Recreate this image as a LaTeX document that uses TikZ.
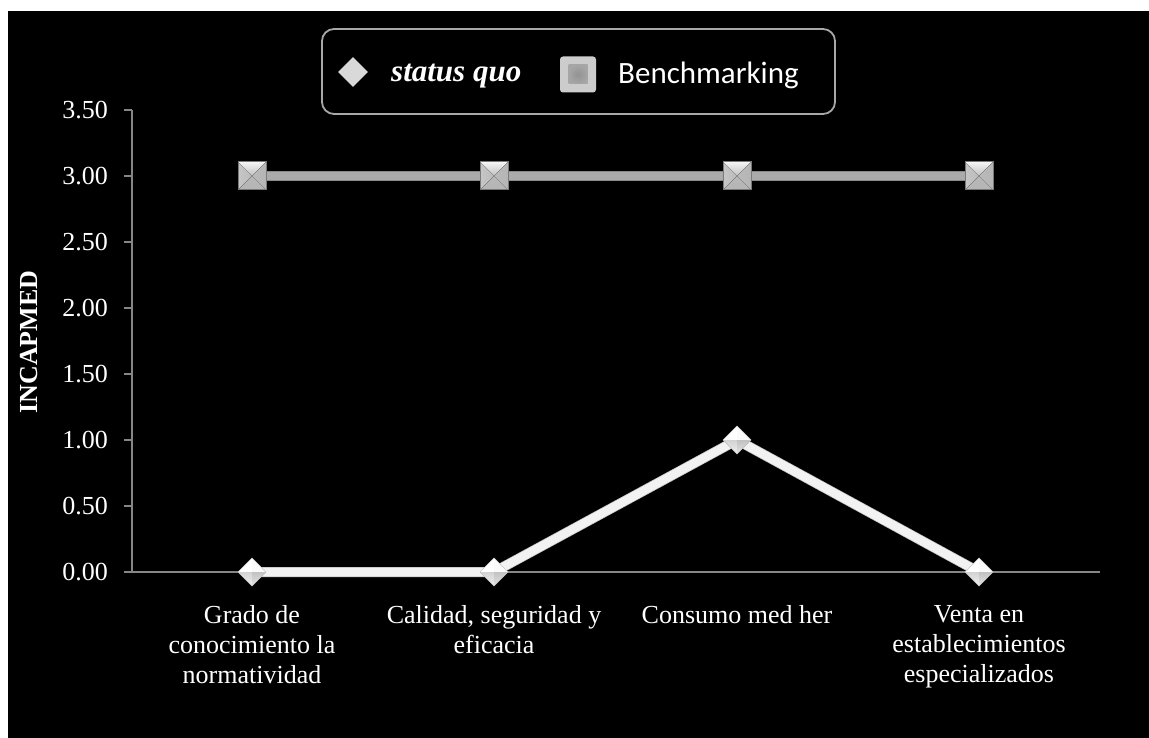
\documentclass[tikz,border=0pt]{standalone}
\usepackage{fontspec}
\setmainfont{Liberation Serif}
\newfontfamily\legendsans{Carlito}
\usetikzlibrary{shapes.geometric}

\definecolor{axisgray}{HTML}{868686}
\definecolor{benchline}{HTML}{ABABAB}
\definecolor{benchedge}{HTML}{8A8A8A}
\definecolor{sqline}{HTML}{F2F2F2}
\definecolor{sqedge}{HTML}{C8C8C8}
\definecolor{legendedge}{HTML}{A8A8A8}

\tikzset{
  axisline/.style={draw=axisgray, line width=1.6pt},
  ticklabel/.style={anchor=east, inner sep=0pt, text=white, font=\fontsize{26}{30}\selectfont},
  catlabel/.style={anchor=north, inner sep=0pt, align=center, text=white, font=\fontsize{26}{30}\selectfont},
  titlelabel/.style={inner sep=0pt, text=white, rotate=90, font=\fontsize{26}{30}\selectfont\bfseries},
  benchedgeline/.style={draw=benchedge, line width=10pt},
  benchcore/.style={draw=benchline, line width=8pt},
  sqedgeline/.style={draw=sqedge, line width=10pt},
  sqcore/.style={draw=sqline, line width=8.5pt},
  legendbox/.style={draw=legendedge, line width=1.8pt, rounded corners=12pt, minimum width=513pt, minimum height=85pt, inner sep=0pt},
  % square pyramid marker of the Benchmarking series
  sqmark/.pic={
    \fill[gray!52!white] (-14,-14) rectangle (14,14);
    \fill[top color=white!92!gray, bottom color=gray!50!white] (-14,-14) -- (14,-14) -- (0,0) -- cycle;
    \fill[left color=gray!44!white, right color=gray!54!white] (-14,-14) -- (-14,14) -- (0,0) -- cycle;
    \fill[left color=gray!54!white, right color=gray!58!white] (14,-14) -- (14,14) -- (0,0) -- cycle;
    \fill[top color=gray!56!white, bottom color=gray!58!white] (-14,14) -- (14,14) -- (0,0) -- cycle;
    \draw[draw=gray!95!black, line width=1pt] (-14,-14) rectangle (14,14);
  },
  % diamond pyramid marker of the status quo series
  dmmark/.pic={
    \fill[white!90!gray] (-14,0) -- (0,-14) -- (14,0) -- (0,14) -- cycle;
    \fill[white] (-14,0) -- (0,-14) -- (0,0) -- cycle;
    \fill[white!96!gray] (0,-14) -- (14,0) -- (0,0) -- cycle;
    \fill[top color=gray!35!white, bottom color=gray!12!white] (-14,0) -- (0,14) -- (0,0) -- cycle;
    \fill[top color=gray!48!white, bottom color=gray!22!white] (14,0) -- (0,14) -- (0,0) -- cycle;
    \draw[draw=gray!45!white, line width=0.5pt] (-14,0) -- (0,-14) -- (14,0) -- (0,14) -- cycle;
  }
}

\begin{document}
\begin{tikzpicture}[x=1pt, y=-1pt]
  \useasboundingbox (0,0) rectangle (1149,738);
  \fill[white] (0,0) rectangle (1149,738);
  \fill[black] (8,11) rectangle (1149,738);

  % axes
  \coordinate (ytop) at (132,110);
  \coordinate (origin) at (132,572);
  \coordinate (xend) at (1100,572);
  \draw[axisline] (ytop) -- (origin) -- (xend);

  % value axis ticks and labels
  \foreach \lab/\yy [count=\i] in {3.50/110, 3.00/176, 2.50/242, 2.00/308, 1.50/374, 1.00/440, 0.50/506, 0.00/572} {
    \coordinate (tk\i) at (124,\yy);
    \coordinate (ta\i) at (132,\yy);
    \draw[axisline] (tk\i) -- (ta\i);
    \node[ticklabel] (tl\i) at (108,\yy) {\lab};
  }

  \node[titlelabel] (ytitle) at (29,342) {INCAPMED};

  % category labels
  \node[catlabel] (c1) at (252,605) {Grado de\\conocimiento la\\normatividad};
  \node[catlabel] (c2) at (494,605) {Calidad, seguridad y\\eficacia};
  \node[catlabel] (c3) at (737,605) {Consumo med her};
  \node[catlabel] (c4) at (979,605) {Venta en\\establecimientos\\especializados};

  % data points
  \coordinate (b1) at (252,176);
  \coordinate (b2) at (494,176);
  \coordinate (b3) at (737,176);
  \coordinate (b4) at (979,176);
  \coordinate (s1) at (252,572);
  \coordinate (s2) at (494,572);
  \coordinate (s3) at (737,440);
  \coordinate (s4) at (979,572);

  % Benchmarking series
  \draw[benchedgeline] (b1) -- (b2) -- (b3) -- (b4);
  \draw[benchcore] (b1) -- (b2) -- (b3) -- (b4);
  \foreach \p in {b1,b2,b3,b4} { \pic at (\p) {sqmark}; }

  % status quo series
  \draw[sqedgeline, line join=round] (s1) -- (s2) -- (s3) -- (s4);
  \draw[sqcore, line join=round] (s1) -- (s2) -- (s3) -- (s4);
  \foreach \p in {s1,s2,s3,s4} { \pic at (\p) {dmmark}; }

  % legend
  \node[legendbox] (legend) at (578.5,71.5) {};
  \node[diamond, fill=gray!30!white, inner sep=0pt, minimum width=30pt, minimum height=30pt] (legdm) at (353,72) {};
  \node[anchor=base west, inner sep=0pt, text=white, font=\fontsize{31}{36}\selectfont\bfseries\itshape] (legsq) at (391,82) {status quo};
  \node[fill=gray!40!white, rounded corners=3pt, minimum size=36pt, inner sep=0pt] (legbm) at (578,74.5) {};
  \node[inner color=gray!85!white, outer color=gray!70!white, minimum size=19pt, inner sep=0pt] (legbmin) at (legbm.center) {};
  \node[anchor=base west, inner sep=0pt, text=white, font=\legendsans\fontsize{31}{36}\selectfont] (legbt) at (618,84) {Benchmarking};
\end{tikzpicture}
\end{document}
